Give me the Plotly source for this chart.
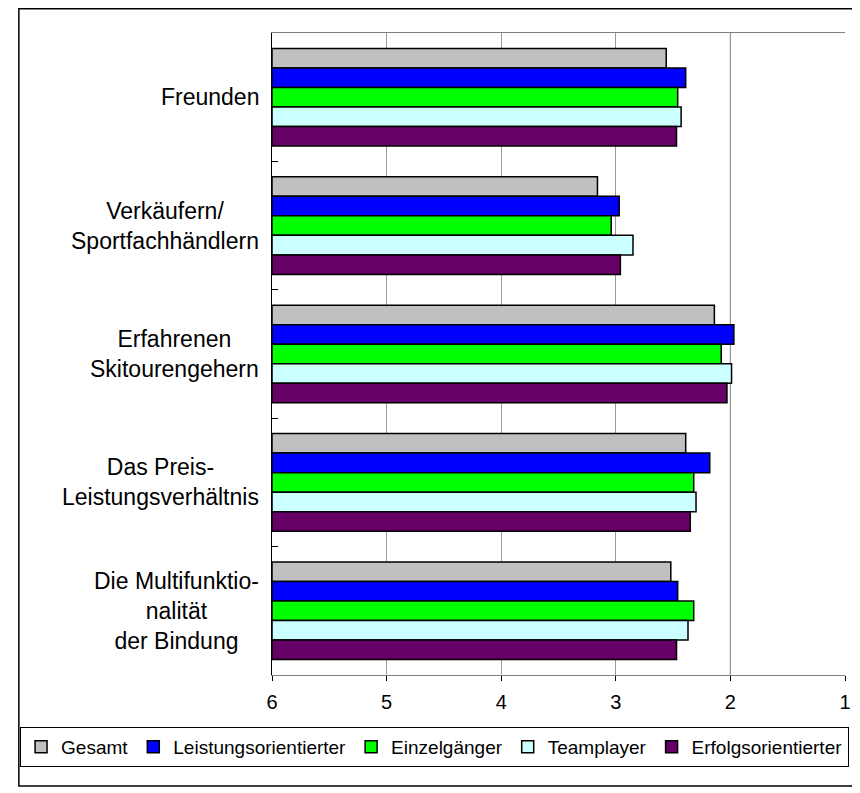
import plotly.graph_objects as go

# Kategorien (von oben nach unten)
categories = [
    "Freunden",
    "Verkäufern/<br>Sportfachhändlern",
    "Erfahrenen<br>Skitourengehern",
    "Das Preis-<br>Leistungsverhältnis",
    "Die Multifunktio-<br>nalität<br>der Bindung",
]

# Mittelwerte je Gruppe (Skala 1-6)
gesamt = [2.56, 3.16, 2.14, 2.39, 2.52]
leistungsorientierter = [2.39, 2.97, 1.97, 2.18, 2.46]
einzelgaenger = [2.46, 3.04, 2.08, 2.32, 2.32]
teamplayer = [2.43, 2.85, 1.99, 2.30, 2.37]
erfolgsorientierter = [2.47, 2.96, 2.03, 2.35, 2.47]

series_names = ["Gesamt", "Leistungsorientierter", "Einzelgänger", "Teamplayer", "Erfolgsorientierter"]
colors = ["#C0C0C0", "#0000FF", "#00FF00", "#CCFFFF", "#660066"]
tick_vals = [6, 5, 4, 3, 2, 1]

font = "Liberation Sans, Arial, sans-serif"
scale_start = 6

fig = go.Figure()
for name, values, col in zip(series_names,
                             [gesamt, leistungsorientierter, einzelgaenger, teamplayer, erfolgsorientierter],
                             colors):
    # Balken beginnen bei 6 (links) und laufen bis zum Wert
    fig.add_trace(go.Bar(
        y=categories,
        x=[v - scale_start for v in values],
        base=scale_start,
        orientation="h",
        name=name,
        marker=dict(color=col, line=dict(color="black", width=1.5)),
    ))

# Kategorie-Beschriftungen zentriert, rechtsbündig am Achsenrand
for cat in categories:
    fig.add_annotation(
        x=0, xref="paper", y=cat, yref="y",
        text=cat, showarrow=False,
        xanchor="right", align="center", xshift=-11,
        font=dict(family=font, size=23, color="black"),
    )

# kräftigere Gitterlinie bei 2
fig.add_shape(type="line", xref="x", yref="paper",
              x0=tick_vals[4], x1=tick_vals[4], y0=0, y1=1,
              line=dict(color="black", width=1), layer="below")

# Rahmen um das ganze Diagramm
fig.add_shape(type="rect", xref="paper", yref="paper",
              x0=-0.4418, x1=1.0138, y0=-0.1729, y1=1.0378,
              line=dict(color="black", width=1.5))

fig.update_layout(
    width=860, height=793,
    margin=dict(l=257, r=23, t=25, b=126),
    paper_bgcolor="white", plot_bgcolor="white",
    barmode="group", bargap=0.24, bargroupgap=0,
    font=dict(family=font, size=19, color="black"),
    legend=dict(
        orientation="h", x=-0.4397, xanchor="left", y=-0.081, yanchor="top",
        bordercolor="black", borderwidth=1, font=dict(size=19),
        traceorder="normal",
    ),
    xaxis=dict(
        range=[6, 1], tickvals=tick_vals, ticks="outside", ticklen=5,
        tickcolor="black", showgrid=True, gridcolor="#9a9a9a", gridwidth=1,
        showline=True, linecolor="#808080", linewidth=1, mirror=True,
        zeroline=False, tickfont=dict(size=20), ticklabelstandoff=4,
    ),
    yaxis=dict(
        autorange="reversed", showticklabels=False, ticks="inside",
        tickson="boundaries", ticklen=6, tickcolor="black",
        showline=True, linecolor="black", linewidth=1, showgrid=False,
    ),
)

fig.write_html("out.html")
